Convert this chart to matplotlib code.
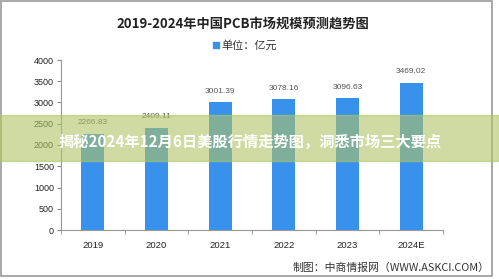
import matplotlib
matplotlib.use("Agg")
import matplotlib.pyplot as plt
from matplotlib.patches import Rectangle

plt.rcParams["font.family"] = ["Noto Sans CJK SC", "DejaVu Sans"]

years = ["2019", "2020", "2021", "2022", "2023", "2024E"]
values = [2266.83, 2409.11, 3001.39, 3078.16, 3096.63, 3469.02]
yticks = [0, 500, 1000, 1500, 2000, 2500, 3000, 3500, 4000]

BAR_BLUE = "#3891eb"
W, H = 499, 279

fig = plt.figure(figsize=(W / 100, H / 100), dpi=100)
ax = fig.add_axes([61 / W, 1 - 230 / H, 382 / W, 170 / H])

x = list(range(len(years)))
ax.bar(x, values, width=0.36, color=BAR_BLUE, zorder=2)
for xi, v in zip(x, values):
    ax.annotate(f"{v:.2f}", (xi, v), xytext=(0, 8), textcoords="offset points",
                ha="center", va="center", fontsize=6, color="#555555",
                family="Liberation Sans")

ax.set_xlim(-0.5, len(years) - 0.5)
ax.set_ylim(0, 4000)
ax.set_yticks(yticks)
ax.set_yticklabels([str(t) for t in yticks], family="Liberation Sans",
                   fontsize=6.5, color="#222222")
ax.set_xticks(x)
ax.set_xticklabels(years, family="Liberation Sans", fontsize=6.8, color="#222222")
ax.set_xticks([i - 0.5 for i in range(len(years) + 1)], minor=True)
ax.tick_params(axis="x", which="major", length=0, pad=8)
ax.tick_params(axis="x", which="minor", length=3, color="#888888")
ax.tick_params(axis="y", length=3, color="#888888", pad=2)
for s in ["top", "right"]:
    ax.spines[s].set_visible(False)
for s in ["left", "bottom"]:
    ax.spines[s].set_color("#999999")
    ax.spines[s].set_linewidth(0.8)

# title, legend, source
fig.text(243 / W, 1 - 24 / H, "2019-2024年中国PCB市场规模预测趋势图",
         ha="center", va="center", fontsize=9.5, fontweight="bold", color="#222222")
fig.patches.append(Rectangle((213 / W, 1 - 48 / H), 6 / W, 6 / H,
                             transform=fig.transFigure, color=BAR_BLUE))
fig.text(221 / W, 1 - 45 / H, "单位：亿元", ha="left", va="center",
         fontsize=8, color="#333333")
fig.text(490 / W, 1 - 268 / H, "制图：中商情报网（WWW.ASKCI.COM）",
         ha="right", va="center", fontsize=7.8, color="#333333")

# outer frame
fig.patches.append(Rectangle((1 / W, 3 / H), 491 / W, 275 / H, transform=fig.transFigure,
                             fill=False, edgecolor="#9a9a9a", linewidth=1.2))

# headline banner overlay
fig.patches.append(Rectangle((0, 1 - 161 / H), 1, 46 / H, transform=fig.transFigure,
                             color=(175 / 255, 196 / 255, 100 / 255), alpha=0.6,
                             zorder=5))
fig.text(250 / W, 1 - 142 / H, "揭秘2024年12月6日美股行情走势图，洞悉市场三大要点",
         ha="center", va="center", fontsize=11, fontweight="bold",
         color="white", zorder=6)

fig.savefig("out.png", dpi=100)
